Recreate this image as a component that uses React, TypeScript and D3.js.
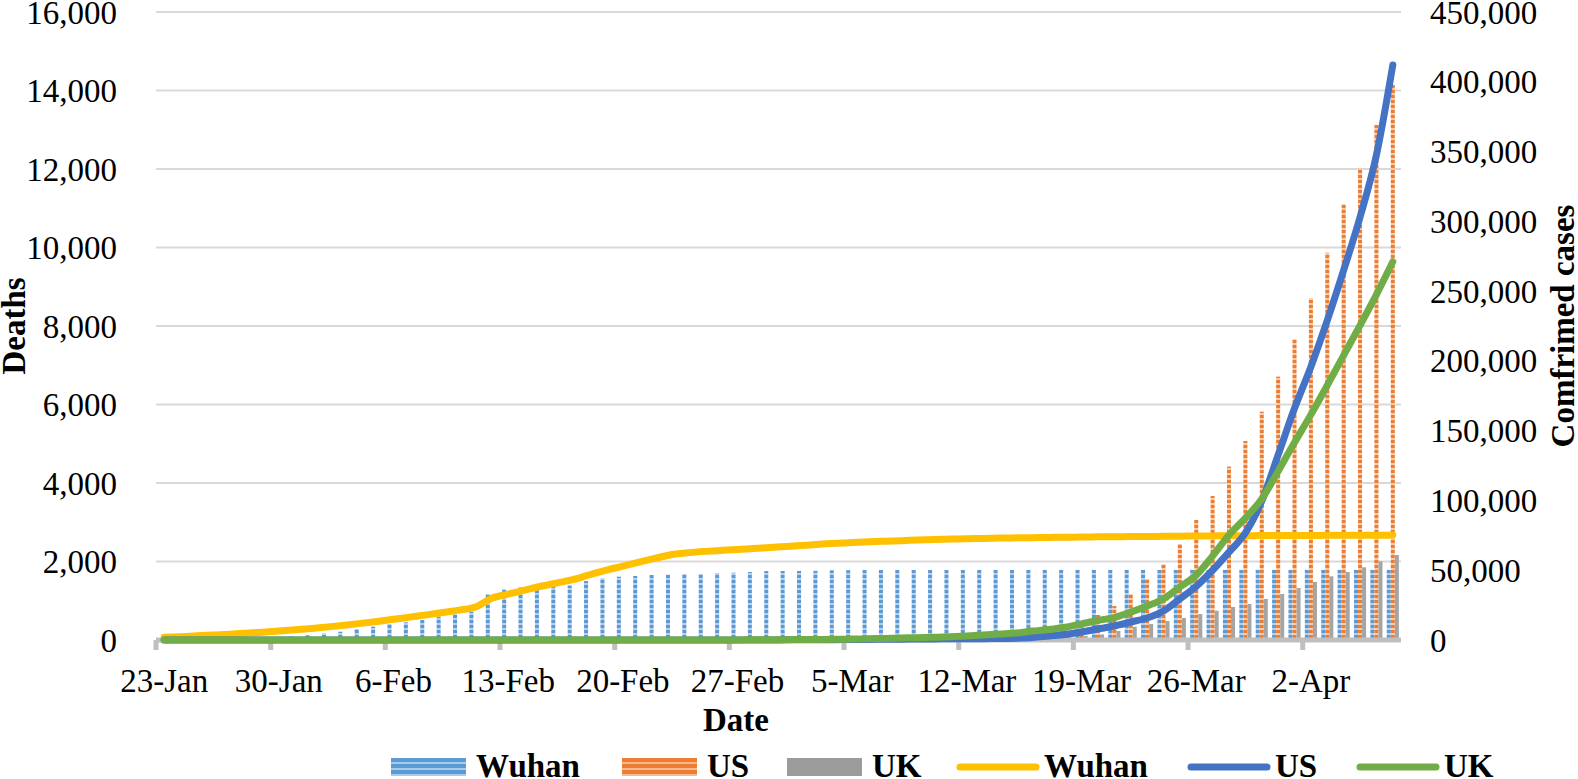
import * as d3 from "d3";

// 23-Jan .. 7-Apr (76 days)
const start = new Date(2020, 0, 23);
const dates = d3.timeDay.range(start, d3.timeDay.offset(start, 76));
const fmt = d3.timeFormat("%-d-%b");
const categories = dates.map((d) => fmt(d));

// Deaths (left axis, bars)
const wuhanDeaths = [
  20, 25, 32, 40, 48, 56, 66, 78, 92, 120,
  170, 212, 280, 340, 408, 450, 510, 594, 654, 722,
  1172, 1291, 1338, 1352, 1365, 1389, 1503, 1572, 1613, 1631,
  1656, 1664, 1682, 1684, 1707, 1715, 1732, 1756, 1758, 1760,
  1762, 1776, 1780, 1782, 1783, 1783, 1784, 1784, 1784, 1785,
  1785, 1785, 1785, 1785, 1785, 1786, 1786, 1786, 1786, 1786,
  1786, 1786, 1786, 1786, 1786, 1787, 1787, 1787, 1787, 1787,
  1787, 1787, 1787, 1787, 1787, 1787,
];
const usDeaths = [
  0, 0, 0, 0, 0, 0, 0, 0, 0, 0,
  0, 0, 0, 0, 0, 0, 0, 0, 0, 0,
  0, 0, 0, 0, 0, 0, 0, 0, 0, 0,
  0, 0, 0, 0, 0, 0, 0, 1, 2, 6,
  9, 11, 12, 15, 19, 22, 26, 30, 38, 41,
  48, 58, 73, 99, 150, 250, 420, 637, 866, 1172,
  1554, 1929, 2446, 3057, 3669, 4416, 5070, 5817, 6709, 7661,
  8706, 9868, 11101, 12018, 13121, 14140,
];
const ukDeaths = [
  0, 0, 0, 0, 0, 0, 0, 0, 0, 0,
  0, 0, 0, 0, 0, 0, 0, 0, 0, 0,
  0, 0, 0, 0, 0, 0, 0, 0, 0, 0,
  0, 0, 0, 0, 0, 0, 0, 0, 0, 0,
  0, 0, 0, 0, 0, 0, 1, 2, 3, 5,
  8, 10, 20, 30, 40, 60, 100, 140, 230, 339,
  408, 484, 560, 662, 746, 841, 917, 1045, 1172, 1325,
  1478, 1623, 1732, 1852, 2005, 2166,
];

// Confirmed cases (right axis, lines)
const wuhanCases = [
  1900, 2400, 3000, 3600, 4200, 4900, 5600, 6400, 7300, 8300,
  9400, 10600, 11900, 13300, 14800, 16400, 18000, 19700, 21400, 23600,
  30000, 32900, 35700, 38500, 40900, 43400, 46900, 50100, 52900, 55800,
  58600, 61300, 62600, 63500, 64200, 64900, 65600, 66300, 67000, 67800,
  68600, 69300, 69800, 70400, 70800, 71200, 71600, 72000, 72300, 72600,
  72800, 73000, 73200, 73300, 73500, 73600, 73800, 73900, 74000, 74100,
  74200, 74300, 74400, 74500, 74600, 74700, 74700, 74800, 74800, 74900,
  74900, 75000, 75000, 75100, 75100, 75200,
];
const usCases = [
  1, 1, 2, 2, 5, 5, 5, 5, 6, 7,
  8, 11, 11, 11, 12, 12, 12, 12, 12, 13,
  13, 15, 15, 15, 15, 15, 15, 15, 15, 15,
  35, 35, 35, 53, 53, 59, 60, 70, 90, 130,
  180, 250, 330, 420, 520, 620, 720, 800, 850, 900,
  950, 1100, 1300, 1800, 2900, 3900, 5700, 7900, 10000, 12900,
  15800, 20800, 29500, 38500, 50000, 63000, 76700, 99500, 132600, 166000,
  195800, 229000, 265000, 303000, 347500, 412000,
];
const ukCases = [
  0, 0, 0, 0, 0, 0, 0, 0, 2, 2,
  2, 2, 2, 3, 3, 8, 8, 9, 9, 9,
  9, 9, 9, 9, 9, 9, 9, 9, 9, 9,
  9, 13, 13, 20, 40, 80, 120, 180, 250, 330,
  420, 500, 700, 900, 1100, 1400, 1700, 2000, 2400, 2900,
  3600, 4300, 5000, 6400, 7500, 9100, 11500, 14000, 16100, 20000,
  24400, 29400, 38000, 46500, 60200, 75200, 87400, 101000, 121000, 141500,
  161500, 182500, 204000, 225500, 247500, 271000,
];

const deathTicks = d3.range(0, 16001, 2000);
const caseTicks = d3.range(0, 450001, 50000);

const W = 1578;
const H = 779;
const left = 156;
const right = 1401;
const top = 12;
const bottom = 640;
const FONT = "'Times New Roman', 'Liberation Serif', serif";

const barSeries = [
  { key: "Wuhan", values: wuhanDeaths, fill: "url(#hatchBlue)" },
  { key: "US", values: usDeaths, fill: "url(#hatchOrange)" },
  { key: "UK", values: ukDeaths, fill: "#A5A5A5" },
];
const lineSeries = [
  { key: "Wuhan", values: wuhanCases, color: "#FFC000" },
  { key: "US", values: usCases, color: "#4472C4" },
  { key: "UK", values: ukCases, color: "#70AD47" },
];

export default function App() {
  const x = d3
    .scaleBand<string>()
    .domain(categories)
    .range([left, right])
    .paddingInner(0.26)
    .paddingOuter(0.13);
  const x1 = d3
    .scaleBand<string>()
    .domain(barSeries.map((s) => s.key))
    .range([0, x.bandwidth()]);
  const yL = d3.scaleLinear().domain([0, 16000]).range([bottom, top]);
  const yR = d3.scaleLinear().domain([0, 450000]).range([bottom, top]);
  const fmtNum = d3.format(",");
  const step = x.step();
  const boundary = (i: number) => left + i * step;
  const cx = (c: string) => (x(c) ?? 0) + x.bandwidth() / 2;

  const line = (vals: number[]) =>
    d3
      .line<number>()
      .x((_, i) => cx(categories[i]))
      .y((d) => yR(d))
      .curve(d3.curveMonotoneX)(vals) ?? "";

  const labelIdx = d3.range(0, categories.length, 7);

  // legend layout
  const legendY = 767;
  const barLegend = [
    { x: 391, label: "Wuhan", fill: "url(#hatchBlueL)" },
    { x: 622, label: "US", fill: "url(#hatchOrangeL)" },
    { x: 787, label: "UK", fill: "#9B9B9B" },
  ];
  const lineLegend = [
    { x: 957, label: "Wuhan", color: "#FFC000" },
    { x: 1188, label: "US", color: "#4472C4" },
    { x: 1357, label: "UK", color: "#70AD47" },
  ];

  return (
    <svg
      width={W}
      height={H}
      style={{ position: "absolute", left: 0, top: 0, background: "#fff" }}
      fontFamily={FONT}
    >
      <defs>
        <pattern id="hatchBlue" patternUnits="userSpaceOnUse" width="4" height="5">
          <rect width="4" height="5" fill="#5B9BD5" />
          <rect y="3" width="4" height="2" fill="#B4D0EE" />
        </pattern>
        <pattern id="hatchOrange" patternUnits="userSpaceOnUse" width="4" height="5">
          <rect width="4" height="5" fill="#ED7D31" />
          <rect y="3" width="4" height="2" fill="#F8CBAD" />
        </pattern>
        <pattern id="hatchBlueL" patternUnits="userSpaceOnUse" width="4" height="6" y={legendY - 9}>
          <rect width="4" height="6" fill="#5B9BD5" />
          <rect y="4" width="4" height="2" fill="#A9CBEB" />
        </pattern>
        <pattern id="hatchOrangeL" patternUnits="userSpaceOnUse" width="4" height="6" y={legendY - 9}>
          <rect width="4" height="6" fill="#ED7D31" />
          <rect y="4" width="4" height="2" fill="#F6B994" />
        </pattern>
      </defs>
      <rect width={W} height={H} fill="#fff" />

      {/* gridlines */}
      {deathTicks.slice(1).map((t) => (
        <line key={t} x1={left} x2={right} y1={yL(t)} y2={yL(t)} stroke="#D9D9D9" strokeWidth={2} />
      ))}

      {/* bars */}
      {barSeries.map((s) => (
        <g key={s.key} fill={s.fill}>
          {s.values.map((v, i) => (
            <rect
              key={i}
              x={(x(categories[i]) ?? 0) + (x1(s.key) ?? 0)}
              y={yL(v)}
              width={x1.bandwidth()}
              height={bottom - yL(v)}
            />
          ))}
        </g>
      ))}

      {/* x axis */}
      <line x1={left} x2={right} y1={bottom} y2={bottom} stroke="#BFBFBF" strokeWidth={5} />
      {labelIdx.map((i) => (
        <line
          key={i}
          x1={boundary(i)}
          x2={boundary(i)}
          y1={bottom}
          y2={bottom + 10}
          stroke="#BFBFBF"
          strokeWidth={5}
        />
      ))}
      {labelIdx.map((i) => (
        <text key={i} x={cx(categories[i])} y={692} textAnchor="middle" fontSize={33}>
          {categories[i]}
        </text>
      ))}
      <text x={736} y={731} textAnchor="middle" fontSize={33} fontWeight="bold">
        Date
      </text>

      {/* lines */}
      {lineSeries.map((s) => (
        <path
          key={s.key}
          d={line(s.values)}
          fill="none"
          stroke={s.color}
          strokeWidth={7}
          strokeLinecap="round"
          strokeLinejoin="round"
        />
      ))}

      {/* left axis */}
      {deathTicks.map((t) => (
        <text key={t} x={117} y={yL(t)} dy="0.35em" textAnchor="end" fontSize={33}>
          {fmtNum(t)}
        </text>
      ))}
      <text
        transform={`translate(25,${(top + bottom) / 2}) rotate(-90)`}
        textAnchor="middle"
        fontSize={33}
        fontWeight="bold"
      >
        Deaths
      </text>

      {/* right axis */}
      {caseTicks.map((t) => (
        <text key={t} x={1430} y={yR(t)} dy="0.35em" textAnchor="start" fontSize={33}>
          {fmtNum(t)}
        </text>
      ))}
      <text
        transform={`translate(1574,${(top + bottom) / 2}) rotate(-90)`}
        textAnchor="middle"
        fontSize={33}
        fontWeight="bold"
      >
        Comfrimed cases
      </text>

      {/* legend */}
      {barLegend.map((l) => (
        <g key={"b" + l.label}>
          <rect x={l.x} y={legendY - 9} width={75} height={18} fill={l.fill} />
          <text x={l.x + 85} y={777} fontSize={33} fontWeight="bold">
            {l.label}
          </text>
        </g>
      ))}
      {lineLegend.map((l) => (
        <g key={"l" + l.label}>
          <line
            x1={l.x + 3}
            x2={l.x + 79}
            y1={legendY}
            y2={legendY}
            stroke={l.color}
            strokeWidth={7}
            strokeLinecap="round"
          />
          <text x={l.x + 87} y={777} fontSize={33} fontWeight="bold">
            {l.label}
          </text>
        </g>
      ))}
    </svg>
  );
}
